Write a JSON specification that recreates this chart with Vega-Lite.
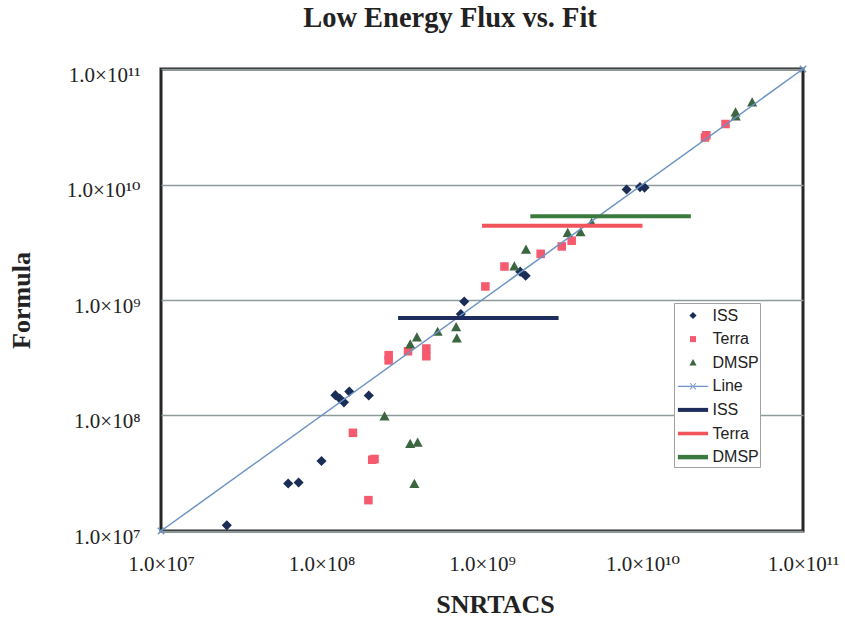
{
  "$schema": "https://vega.github.io/schema/vega-lite/v6.json",
  "width": 642,
  "height": 462,
  "autosize": {"type": "none"},
  "padding": {"left": 161, "top": 69, "right": 42, "bottom": 90},
  "background": "white",
  "title": {
    "text": "Low Energy Flux vs. Fit",
    "font": "Liberation Serif",
    "fontSize": 28.5,
    "fontWeight": "bold",
    "color": "#222222",
    "anchor": "middle",
    "frame": "group",
    "baseline": "alphabetic",
    "offset": 7,
    "dx": -32
  },
  "config": {
    "view": {"stroke": "#262626", "strokeWidth": 3},
    "font": "Liberation Serif"
  },
  "datasets": {
    "pts": [
      {"series": "ISS", "x": 2.57e7, "y": 1.12e7},
      {"series": "ISS", "x": 6.2e7, "y": 2.58e7},
      {"series": "ISS", "x": 7.2e7, "y": 2.63e7},
      {"series": "ISS", "x": 1.0e8, "y": 4.04e7},
      {"series": "ISS", "x": 1.22e8, "y": 1.5e8},
      {"series": "ISS", "x": 1.3e8, "y": 1.4e8},
      {"series": "ISS", "x": 1.38e8, "y": 1.3e8},
      {"series": "ISS", "x": 1.49e8, "y": 1.61e8},
      {"series": "ISS", "x": 1.97e8, "y": 1.49e8},
      {"series": "ISS", "x": 7.38e8, "y": 7.55e8},
      {"series": "ISS", "x": 7.75e8, "y": 9.7e8},
      {"series": "ISS", "x": 1.73e9, "y": 1.76e9},
      {"series": "ISS", "x": 1.87e9, "y": 1.62e9},
      {"series": "ISS", "x": 7.96e9, "y": 9.05e9},
      {"series": "ISS", "x": 9.65e9, "y": 9.5e9},
      {"series": "ISS", "x": 1.03e10, "y": 9.4e9},
      {"series": "Terra", "x": 1.57e8, "y": 7.08e7},
      {"series": "Terra", "x": 2.07e8, "y": 4.14e7},
      {"series": "Terra", "x": 2.14e8, "y": 4.2e7},
      {"series": "Terra", "x": 1.96e8, "y": 1.85e7},
      {"series": "Terra", "x": 2.62e8, "y": 3.0e8},
      {"series": "Terra", "x": 2.62e8, "y": 3.33e8},
      {"series": "Terra", "x": 3.46e8, "y": 3.6e8},
      {"series": "Terra", "x": 4.5e8, "y": 3.8e8},
      {"series": "Terra", "x": 4.5e8, "y": 3.26e8},
      {"series": "Terra", "x": 1.05e9, "y": 1.31e9},
      {"series": "Terra", "x": 1.38e9, "y": 1.95e9},
      {"series": "Terra", "x": 2.32e9, "y": 2.51e9},
      {"series": "Terra", "x": 3.14e9, "y": 2.91e9},
      {"series": "Terra", "x": 3.62e9, "y": 3.26e9},
      {"series": "Terra", "x": 2.5e10, "y": 2.67e10},
      {"series": "Terra", "x": 2.45e10, "y": 2.55e10},
      {"series": "Terra", "x": 3.29e10, "y": 3.34e10},
      {"series": "DMSP", "x": 2.47e8, "y": 9.8e7},
      {"series": "DMSP", "x": 3.57e8, "y": 5.67e7},
      {"series": "DMSP", "x": 3.97e8, "y": 5.8e7},
      {"series": "DMSP", "x": 3.79e8, "y": 2.55e7},
      {"series": "DMSP", "x": 3.57e8, "y": 4.12e8},
      {"series": "DMSP", "x": 3.93e8, "y": 4.74e8},
      {"series": "DMSP", "x": 5.29e8, "y": 5.3e8},
      {"series": "DMSP", "x": 6.9e8, "y": 5.8e8},
      {"series": "DMSP", "x": 6.97e8, "y": 4.64e8},
      {"series": "DMSP", "x": 1.59e9, "y": 1.95e9},
      {"series": "DMSP", "x": 1.88e9, "y": 2.72e9},
      {"series": "DMSP", "x": 3.42e9, "y": 3.8e9},
      {"series": "DMSP", "x": 4.11e9, "y": 3.85e9},
      {"series": "DMSP", "x": 4.82e9, "y": 4.64e9},
      {"series": "DMSP", "x": 3.81e10, "y": 3.88e10},
      {"series": "DMSP", "x": 3.8e10, "y": 4.2e10},
      {"series": "DMSP", "x": 4.82e10, "y": 5.13e10}
    ],
    "diag": [
      {"series": "Line", "x": 1e7, "y": 1e7},
      {"series": "Line", "x": 1e11, "y": 1e11}
    ],
    "segs": [
      {"series": "ISS ", "x": 3e8, "x2": 3e9, "y": 7e8},
      {"series": "Terra ", "x": 1e9, "x2": 1e10, "y": 4.4e9},
      {"series": "DMSP ", "x": 2e9, "x2": 2e10, "y": 5.3e9}
    ]
  },
  "encoding": {
    "x": {
      "field": "x",
      "type": "quantitative",
      "scale": {"type": "log", "domain": [1e7, 1e11], "nice": false},
      "axis": {
        "title": "SNRTACS",
        "titleFont": "Liberation Serif",
        "titleFontSize": 26,
        "titleFontWeight": "bold",
        "titleColor": "#222222",
        "titleX": 334,
        "titleY": 81,
        "titleBaseline": "alphabetic",
        "titleAlign": "center",
        "values": [1e7, 1e8, 1e9, 1e10, 1e11],
        "labelExpr": "'1.0×10' + ['⁷','⁸','⁹','¹⁰','¹¹'][round(log(datum.value)/LN10) - 7]",
        "labelFont": "Liberation Serif, DejaVu Serif",
        "labelFontSize": 21,
        "labelColor": "#222222",
        "labelPadding": 22,
        "labelBaseline": "top",
        "labelFlush": false,
        "labelOverlap": false,
        "tickSize": 0,
        "domain": false,
        "grid": false
      }
    },
    "y": {
      "field": "y",
      "type": "quantitative",
      "scale": {"type": "log", "domain": [1e7, 1e11], "nice": false},
      "axis": {
        "title": "Formula",
        "titleFont": "Liberation Serif",
        "titleFontSize": 26,
        "titleFontWeight": "bold",
        "titleColor": "#222222",
        "titleX": -132,
        "titleY": 231,
        "titleAngle": -90,
        "titleBaseline": "alphabetic",
        "titleAlign": "center",
        "values": [1e7, 1e8, 1e9, 1e10, 1e11],
        "labelExpr": "'1.0×10' + ['⁷','⁸','⁹','¹⁰','¹¹'][round(log(datum.value)/LN10) - 7]",
        "labelFont": "Liberation Serif, DejaVu Serif",
        "labelFontSize": 21,
        "labelColor": "#222222",
        "labelPadding": 21,
        "labelOffset": 6,
        "labelBaseline": "middle",
        "labelFlush": false,
        "labelOverlap": false,
        "tickSize": 0,
        "domain": false,
        "grid": true,
        "gridColor": "#8c9a9a",
        "gridWidth": 1.5
      }
    }
  },
  "layer": [
    {
      "data": {"name": "pts"},
      "mark": {"type": "point", "filled": true, "size": 1000, "opacity": 1, "strokeWidth": 0},
      "encoding": {
        "color": {
          "field": "series",
          "type": "nominal",
          "scale": {
            "domain": ["ISS", "Terra", "DMSP", "Line", "ISS ", "Terra ", "DMSP "],
            "range": ["#1a2d57", "#f55a6f", "#3b6640", "#6d93c4", "#1f2d5c", "#f2545b", "#3b7a3e"]
          },
          "legend": {
            "title": null,
            "orient": "none",
            "legendX": 513,
            "legendY": 234,
            "padding": 1,
            "rowPadding": 3.6,
            "symbolSize": 500,
            "symbolStrokeWidth": 0,
            "symbolOffset": 6.5,
            "labelOffset": 8,
            "labelFont": "Liberation Sans",
            "labelFontSize": 16,
            "labelColor": "#222222",
            "fillColor": "white",
            "strokeColor": "#a0a0a0",
            "cornerRadius": 0
          }
        },
        "shape": {
          "field": "series",
          "type": "nominal",
          "scale": {
            "domain": ["ISS", "Terra", "DMSP", "Line", "ISS ", "Terra ", "DMSP "],
            "range": [
              "M0,-0.32L0.32,0L0,0.32L-0.32,0Z",
              "M-0.27,-0.27L0.27,-0.27L0.27,0.27L-0.27,0.27Z",
              "M0,-0.33L0.32,0.25L-0.32,0.25Z",
              "M-1.35,-0.06L1.35,-0.06L1.35,0.06L-1.35,0.06Z M-0.3,-0.24L-0.24,-0.3L0.3,0.24L0.24,0.3Z M-0.3,0.24L-0.24,0.3L0.3,-0.24L0.24,-0.3Z",
              "M-1.35,-0.18L1.35,-0.18L1.35,0.18L-1.35,0.18Z",
              "M-1.35,-0.16L1.35,-0.16L1.35,0.16L-1.35,0.16Z",
              "M-1.35,-0.2L1.35,-0.2L1.35,0.2L-1.35,0.2Z"
            ]
          }
        }
      }
    },
    {
      "data": {"name": "diag"},
      "mark": {"type": "line", "strokeWidth": 1.5},
      "encoding": {
        "color": {
          "field": "series",
          "type": "nominal",
          "scale": {"domain": ["ISS", "Terra", "DMSP", "Line", "ISS ", "Terra ", "DMSP "]}
        }
      }
    },
    {
      "data": {"name": "diag"},
      "mark": {"type": "point", "shape": "M-1,-1L1,1M-1,1L1,-1", "filled": false, "color": "#6d93c4", "size": 40, "strokeWidth": 1.5, "opacity": 1}
    },
    {
      "data": {"name": "segs"},
      "mark": {"type": "rule", "strokeWidth": 4},
      "encoding": {
        "x2": {"field": "x2"},
        "color": {
          "field": "series",
          "type": "nominal",
          "scale": {"domain": ["ISS", "Terra", "DMSP", "Line", "ISS ", "Terra ", "DMSP "]}
        }
      }
    }
  ]
}
